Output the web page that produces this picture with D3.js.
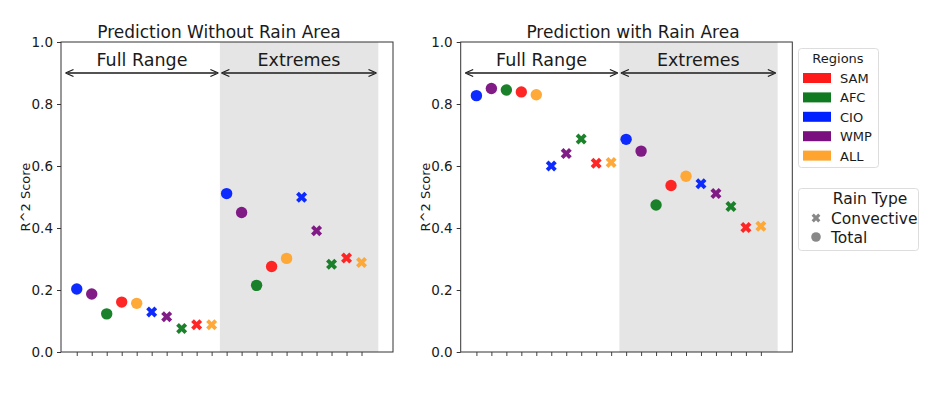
<!DOCTYPE html>
<html><head><meta charset="utf-8">
<script src="https://cdn.jsdelivr.net/npm/d3@7"></script>
<style>body{margin:0;background:#fff;} text{font-family:"DejaVu Sans",sans-serif;fill:#1a1a1a;}</style>
</head><body><svg id="c" width="950" height="394"></svg>
<script>
// ---- data ----
const pointRegions = ["CIO","WMP","AFC","SAM","ALL","CIO","WMP","AFC","SAM","ALL",
                      "CIO","WMP","AFC","SAM","ALL","CIO","WMP","AFC","SAM","ALL"];
const pointTypes = ["Total","Total","Total","Total","Total","Convective","Convective","Convective","Convective","Convective",
                    "Total","Total","Total","Total","Total","Convective","Convective","Convective","Convective","Convective"];
const scoresWithoutRainArea = [0.203,0.187,0.123,0.161,0.157,0.129,0.114,0.076,0.088,0.088,
                               0.511,0.450,0.215,0.276,0.302,0.499,0.391,0.283,0.303,0.289];
const scoresWithRainArea = [0.827,0.850,0.845,0.839,0.830,0.600,0.640,0.687,0.609,0.611,
                            0.686,0.648,0.474,0.537,0.567,0.543,0.511,0.469,0.402,0.406];
const panelTitles = ["Prediction Without Rain Area","Prediction with Rain Area"];
const legendRegions = ["SAM","AFC","CIO","WMP","ALL"];
const rainTypes = ["Convective","Total"];
const yTicks = [0.0,0.2,0.4,0.6,0.8,1.0];
const rangeLabels = ["Full Range","Extremes"];

const regionColors = {SAM:"#ff1a1a",AFC:"#0f7a1f",CIO:"#0020ff",WMP:"#7a0f80",ALL:"#ffa42e"};

const svg = d3.select("#c");
svg.append("rect").attr("width",950).attr("height",394).attr("fill","#fff");

const xMark = "M-2.75,-5.5L0,-2.75L2.75,-5.5L5.5,-2.75L2.75,0L5.5,2.75L2.75,5.5L0,2.75L-2.75,5.5L-5.5,2.75L-2.75,0L-5.5,-2.75Z";

const panels = [
  {x0:61, x1:393, scores:scoresWithoutRainArea, title:panelTitles[0], tx:219},
  {x0:460.7, x1:792.3, scores:scoresWithRainArea, title:panelTitles[1], tx:633}
];
const yTop = 42, yBot = 352;

panels.forEach(p => {
  const x = d3.scaleLinear().domain([-1.05,21.1]).range([p.x0,p.x1]);
  const y = d3.scaleLinear().domain([0,1]).range([yBot,yTop]);
  const g = svg.append("g");
  g.append("rect").attr("x",x(9.55)).attr("y",yTop).attr("width",x(20.12)-x(9.55)).attr("height",yBot-yTop)
    .attr("fill","#e5e5e5");
  const ya = g.append("g").attr("transform",`translate(${p.x0},0)`)
    .call(d3.axisLeft(y).tickValues(yTicks).tickFormat(d3.format(".1f")).tickSize(4).tickPadding(4));
  ya.select(".domain").remove();
  ya.selectAll("text").attr("font-size",13.5).attr("fill","#222").style("font-family","DejaVu Sans");
  ya.selectAll("line").attr("stroke","#333");
  const xa = g.append("g").attr("transform",`translate(0,${yBot})`)
    .call(d3.axisBottom(x).tickValues(d3.range(20)).tickFormat("").tickSize(4));
  xa.select(".domain").remove();
  xa.selectAll("line").attr("stroke","#444");
  g.append("rect").attr("x",p.x0).attr("y",yTop).attr("width",p.x1-p.x0).attr("height",yBot-yTop)
    .attr("fill","none").attr("stroke","#333").attr("stroke-width",1);
  g.append("text").attr("transform",`translate(${p.x0-31},${(yTop+yBot)/2}) rotate(-90)`)
    .attr("text-anchor","middle").attr("font-size",13).text("R^2 Score");
  g.append("text").attr("x",p.tx).attr("y",38).attr("text-anchor","middle").attr("font-size",17).text(p.title);
  const arrows = [[-0.75,9.45],[9.65,20.0]];
  arrows.forEach((a,i) => {
    const xa0 = x(a[0]), xa1 = x(a[1]), yy = y(0.9);
    g.append("line").attr("x1",xa0+2).attr("x2",xa1-2).attr("y1",yy).attr("y2",yy).attr("stroke","#1a1a1a").attr("stroke-width",1.3);
    g.append("path").attr("d",`M${xa0},${yy}l8,-3.5M${xa0},${yy}l8,3.5`).attr("stroke","#1a1a1a").attr("stroke-width",1.3).attr("fill","none");
    g.append("path").attr("d",`M${xa1},${yy}l-8,-3.5M${xa1},${yy}l-8,3.5`).attr("stroke","#1a1a1a").attr("stroke-width",1.3).attr("fill","none");
    g.append("text").attr("x",(xa0+xa1)/2).attr("y",66).attr("text-anchor","middle").attr("font-size",17.5).text(rangeLabels[i]);
  });
  p.scores.forEach((v,i) => {
    const c = regionColors[pointRegions[i]];
    if (pointTypes[i] === "Total") {
      g.append("circle").attr("cx",x(i)).attr("cy",y(v)).attr("r",5.7).attr("fill",c).attr("fill-opacity",0.95);
    } else {
      g.append("path").attr("d",xMark).attr("transform",`translate(${x(i)},${y(v)})`).attr("fill",c).attr("fill-opacity",0.95);
    }
  });
});

const lg = svg.append("g");
lg.append("rect").attr("x",798.5).attr("y",48.5).attr("width",80).attr("height",119).attr("rx",3)
  .attr("fill","#fff").attr("stroke","#ddd");
lg.append("text").attr("x",838).attr("y",63).attr("text-anchor","middle").attr("font-size",13).text("Regions");
legendRegions.forEach((r,i) => {
  const yy = 78 + i*19.4;
  lg.append("rect").attr("x",803).attr("y",yy-5).attr("width",28).attr("height",10).attr("fill",regionColors[r]);
  lg.append("text").attr("x",840).attr("y",yy+5).attr("font-size",13).text(r);
});
const rg = svg.append("g");
rg.append("rect").attr("x",798.5).attr("y",188.5).attr("width",120).attr("height",62).attr("rx",3)
  .attr("fill","#fff").attr("stroke","#ddd");
rg.append("text").attr("x",870).attr("y",204).attr("text-anchor","middle").attr("font-size",15.5).text("Rain Type");
rainTypes.forEach((t,i) => {
  const yy = 218 + i*19;
  if (t === "Convective") {
    rg.append("path").attr("d",xMark).attr("transform",`translate(816,${yy}) scale(0.8)`).attr("fill","#888");
  } else {
    rg.append("circle").attr("cx",816).attr("cy",yy).attr("r",4.8).attr("fill","#888");
  }
  rg.append("text").attr("x",831).attr("y",yy+5.5).attr("font-size",15.5).text(t);
});
</script></body></html>
